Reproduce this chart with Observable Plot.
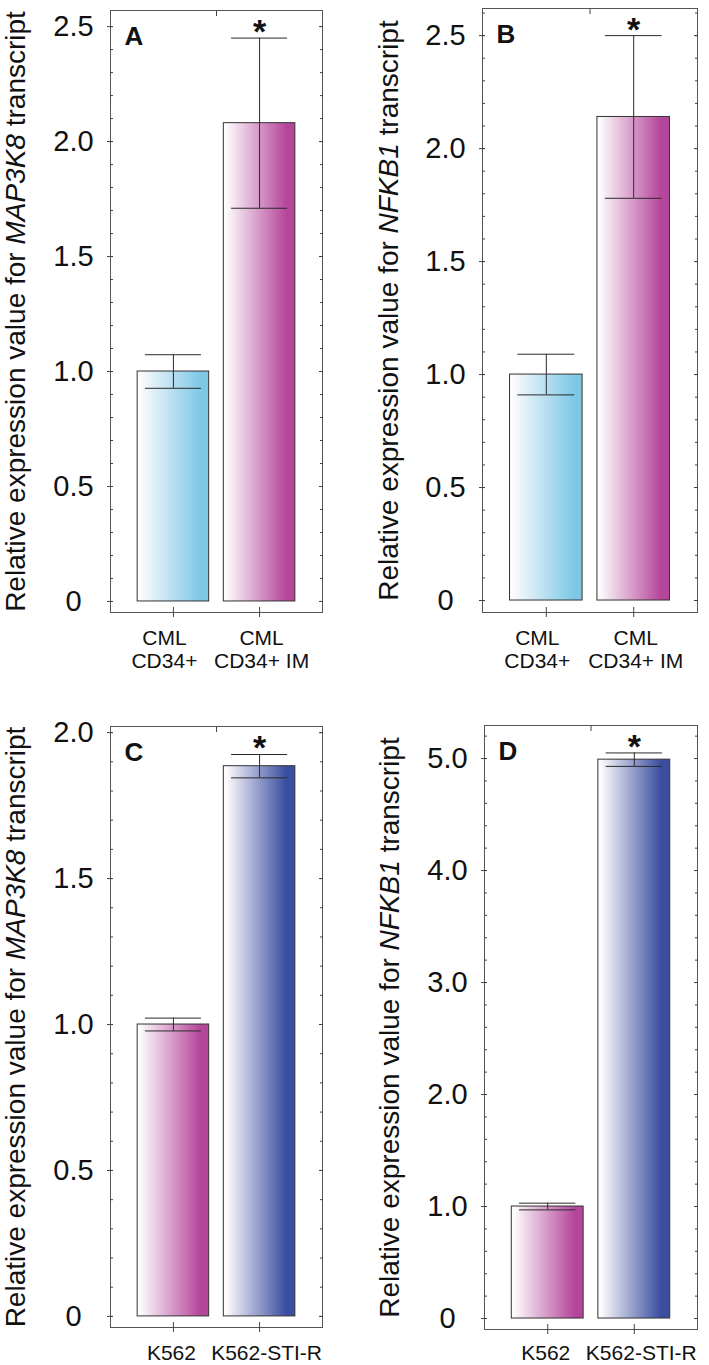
<!DOCTYPE html>
<html><head><meta charset="utf-8">
<script src="https://cdn.jsdelivr.net/npm/d3@7"></script>
<script src="https://cdn.jsdelivr.net/npm/@observablehq/plot@0.6"></script>
<style>
body{margin:0;background:#fff;}
#wrap{position:relative;width:709px;height:1365px;overflow:hidden;background:#fff;font-family:"Liberation Sans",Arial,sans-serif;}
.panel{position:absolute;}
</style></head><body><div id="wrap"></div>
<script>
// ---- data ----
const catsTop = ["CML\nCD34+", "CML\nCD34+ IM"];
const catsBottom = ["K562", "K562-STI-R"];
const valuesA = [1.0, 2.08];
const errorsA = [0.073, 0.37];
const valuesB = [1.0, 2.14];
const errorsB = [0.09, 0.36];
const valuesC = [1.0, 1.885];
const errorsC = [0.022, 0.04];
const valuesD = [1.0, 4.99];
const errorsD = [0.03, 0.06];
const significant = [false, true];
const colorsTop = ["cyan", "magenta"];
const colorsBottom = ["magenta", "blue"];
const genes = ["MAP3K8", "NFKB1", "MAP3K8", "NFKB1"];
const letters = ["A", "B", "C", "D"];
const yTicksAB = [0, 0.5, 1, 1.5, 2, 2.5];
const yTickLabelsAB = ["0", "0.5", "1.0", "1.5", "2.0", "2.5"];
const yTicksC = [0, 0.5, 1, 1.5, 2];
const yTickLabelsC = ["0", "0.5", "1.0", "1.5", "2.0"];
const yTicksD = [0, 1, 2, 3, 4, 5];
const yTickLabelsD = ["0", "1.0", "2.0", "3.0", "4.0", "5.0"];
const gradientEnds = {cyan: "#7ec8e6", magenta: "#b5479b", blue: "#3a4d9f"};

const FONT = '"Liberation Sans", Arial, Helvetica, sans-serif';
const INK = "#2a2a2a";

function panel(cfg) {
  const data = cfg.values.map((v, i) => ({
    pos: i + 1, value: v, err: cfg.errors[i], sig: significant[i], color: cfg.colors[i]
  }));
  const labelMap = new Map(cfg.yTicks.map((t, i) => [t, cfg.yTickLabels[i]]));
  const title = `Relative expression value for ${cfg.gene} transcript`;
  const halfBar = 0.415, halfCap = 0.325;
  const tickOnly = {fill: "none", label: null, stroke: "#444"};
  const xLabel = (pos, dx) => Plot.axisX({anchor: "bottom", ticks: [pos], tickFormat: d => cfg.cats[d - 1],
    tickSize: 0, tickPadding: cfg.xPad, dx, fontSize: cfg.xFont, lineHeight: 1.1, label: null, fill: "#111"});
  const svg = Plot.plot({
    width: cfg.width, height: cfg.height,
    marginLeft: cfg.ml, marginRight: cfg.mr, marginTop: cfg.mt, marginBottom: cfg.mb,
    style: {fontFamily: FONT, background: "transparent", overflow: "visible", color: INK},
    x: {type: "linear", domain: [0.27, 2.73], axis: null},
    y: {domain: cfg.yDomain, axis: null},
    color: {type: "identity"},
    marks: [
      Plot.rect(data, {x1: d => d.pos - halfBar, x2: d => d.pos + halfBar, y1: 0, y2: "value",
        fill: d => `url(#${cfg.id}-${d.color})`, stroke: "#333", strokeWidth: 1}),
      Plot.ruleX(data, {x: "pos", y1: d => d.value - d.err, y2: d => d.value + d.err, stroke: INK, strokeWidth: 1}),
      Plot.ruleY(data, {y: d => d.value + d.err, x1: d => d.pos - halfCap, x2: d => d.pos + halfCap, stroke: INK, strokeWidth: 1}),
      Plot.ruleY(data, {y: d => d.value - d.err, x1: d => d.pos - halfCap, x2: d => d.pos + halfCap, stroke: INK, strokeWidth: 1}),
      Plot.text(data.filter(d => d.sig), {x: "pos", y: d => d.value + d.err, text: () => "*",
        fontSize: 34, fontWeight: "bold", dy: -6, fill: "#111"}),
      Plot.frame({stroke: "#555", strokeWidth: 1}),
      // y tick labels
      Plot.axisY({anchor: "left", ticks: cfg.yTicks, tickFormat: d => labelMap.get(d), tickSize: 0,
        tickPadding: 37, textAnchor: "middle", fontSize: 29, label: null, fill: "#111"}),
      // left ticks
      Plot.axisY({anchor: "left", ticks: cfg.yTicks, tickSize: 6, dx: 3, ...tickOnly}),
      Plot.axisY({anchor: "left", ticks: cfg.yMinor, tickSize: 3, dx: 3, ...tickOnly}),
      // right ticks (inward)
      Plot.axisY({anchor: "right", ticks: cfg.yTicks, tickSize: 4, dx: -4, ...tickOnly}),
      Plot.axisY({anchor: "right", ticks: cfg.yMinor, tickSize: 3, dx: -3, ...tickOnly}),
      // top middle tick (inward)
      Plot.axisX({anchor: "top", ticks: [1.5], tickSize: 5, dy: 5, ...tickOnly}),
      // bottom ticks (crossing)
      Plot.axisX({anchor: "bottom", ticks: [1, 2], tickSize: 10, dy: -5, ...tickOnly}),
      // x labels
      xLabel(1, cfg.xDx[0]),
      xLabel(2, cfg.xDx[1]),
      // panel letter
      Plot.text([cfg.letter], {frameAnchor: "top-left", dx: 14, dy: 16, lineAnchor: "top",
        fontSize: 26, fontWeight: "bold", fill: "#111"}),
      // y title
      Plot.text([title], {frameAnchor: "left", rotate: -90, dx: cfg.titleDx, lineAnchor: "bottom",
        textAnchor: "middle", fontSize: 28, fill: "#111"})
    ]
  });
  // gradients
  const ns = "http://www.w3.org/2000/svg";
  const defs = document.createElementNS(ns, "defs");
  for (const [name, end] of Object.entries(gradientEnds)) {
    const g = document.createElementNS(ns, "linearGradient");
    g.setAttribute("id", `${cfg.id}-${name}`);
    g.setAttribute("x1", "0"); g.setAttribute("x2", "1"); g.setAttribute("y1", "0"); g.setAttribute("y2", "0");
    [[0, "#ffffff"], [0.04, "#fdfbfd"], [0.88, end], [1, end]].forEach(([o, c]) => {
      const s = document.createElementNS(ns, "stop");
      s.setAttribute("offset", o); s.setAttribute("stop-color", c);
      g.appendChild(s);
    });
    defs.appendChild(g);
  }
  svg.insertBefore(defs, svg.firstChild);
  // italic gene name in the title
  svg.querySelectorAll("text").forEach(t => {
    if (t.textContent.includes(cfg.gene) && t.textContent.includes("Relative")) {
      const holder = t.querySelector("tspan") || t;
      holder.textContent = "";
      const parts = [["Relative expression value for ", null], [cfg.gene, "italic"], [" transcript", null]];
      for (const [txt, st] of parts) {
        const sp = document.createElementNS(ns, "tspan");
        sp.textContent = txt;
        if (st) sp.setAttribute("font-style", st);
        holder.appendChild(sp);
      }
    }
  });
  const div = document.createElement("div");
  div.className = "panel";
  div.style.left = cfg.left + "px";
  div.style.top = cfg.top + "px";
  div.appendChild(svg);
  document.getElementById("wrap").appendChild(div);
}

panel({id: "pA", letter: letters[0], gene: genes[0], cats: catsTop, values: valuesA, errors: errorsA, colors: colorsTop,
  yTicks: yTicksAB, yTickLabels: yTickLabelsAB, yMinor: d3.range(0, 2.501, 0.1), yDomain: [-0.048, 2.57],
  left: 0, top: 0, width: 355, height: 680, ml: 110, mr: 33, mt: 10, mb: 68,
  xPad: 16, xFont: 21, xDx: [-9, 2], titleDx: -86});
panel({id: "pB", letter: letters[1], gene: genes[1], cats: catsTop, values: valuesB, errors: errorsB, colors: colorsTop,
  yTicks: yTicksAB, yTickLabels: yTickLabelsAB, yMinor: d3.range(0, 2.601, 0.1), yDomain: [-0.053, 2.62],
  left: 355, top: 0, width: 354, height: 680, ml: 127, mr: 12, mt: 8, mb: 68,
  xPad: 16, xFont: 21, xDx: [-9, 2], titleDx: -85});
panel({id: "pC", letter: letters[2], gene: genes[2], cats: catsBottom, values: valuesC, errors: errorsC, colors: colorsBottom,
  yTicks: yTicksC, yTickLabels: yTickLabelsC, yMinor: d3.range(0, 2.001, 0.1), yDomain: [-0.038, 2.021],
  left: 0, top: 680, width: 355, height: 685, ml: 110, mr: 33, mt: 46, mb: 38,
  xPad: 16, xFont: 21, xDx: [-2, 7], titleDx: -86});
panel({id: "pD", letter: letters[3], gene: genes[3], cats: catsBottom, values: valuesD, errors: errorsD, colors: colorsBottom,
  yTicks: yTicksD, yTickLabels: yTickLabelsD, yMinor: d3.range(0, 5.201, 0.2), yDomain: [-0.098, 5.295],
  left: 355, top: 680, width: 354, height: 685, ml: 129, mr: 12, mt: 45, mb: 36,
  xPad: 14, xFont: 21, xDx: [-2, 7], titleDx: -86});
</script>
</body></html>
